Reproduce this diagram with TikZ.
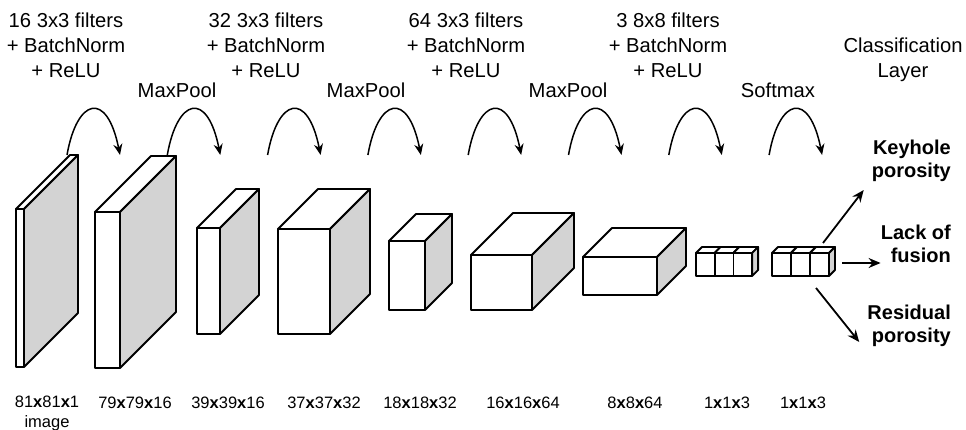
\documentclass[tikz,border=0pt]{standalone}
\usepackage{fontspec}
\setmainfont{Liberation Sans}
\usetikzlibrary{arrows.meta}

\definecolor{sidegray}{RGB}{211,211,211}
\newcommand{\dimx}{\textbf{x}}
% one layer block: x, y of the front's top left, width, height, depth
\newcommand{\layerbox}[5]{
	\draw[face] (#1,#2) -- ({#1+#5},{#2-#5}) -- ({#1+#3+#5},{#2-#5}) -- ({#1+#3},#2) -- cycle;
	\draw[face,fill=sidegray] ({#1+#3},#2) -- ({#1+#3+#5},{#2-#5}) -- ({#1+#3+#5},{#2+#4-#5}) -- ({#1+#3},{#2+#4}) -- cycle;
	\draw[face] (#1,#2) rectangle ({#1+#3},{#2+#4});
}

\tikzset{
	face/.style={draw, fill=white, line width=1.8pt, line join=round},
	hop/.style={line width=1.5pt, -{Stealth[length=11pt,width=9pt]}},
	outarrow/.style={line width=1.8pt, -{Stealth[length=12pt,width=10pt]}},
	toplabel/.style={font=\fontsize{20.2}{25}\selectfont, align=center, inner sep=0pt},
	dimlabel/.style={font=\fontsize{16.5}{20}\selectfont, align=center, inner sep=0pt},
	classlabel/.style={font=\fontsize{20}{23}\selectfont\bfseries, align=right, inner sep=0pt, anchor=east}
}

\begin{document}
\begin{tikzpicture}[x=1pt,y=-1pt]

	\useasboundingbox (0,0) rectangle (966,430);

	% blocks
	\layerbox{16}{209}{8}{158}{54}
	\layerbox{95}{212}{25}{156}{56}
	\layerbox{197}{228}{23}{106}{39}
	\layerbox{278}{229}{52}{105}{40}
	\layerbox{389}{241}{36}{69}{27}
	\layerbox{471}{255}{61}{55}{42}
	\layerbox{583}{257}{74}{38}{29}
	\foreach \i in {0,1,2}{
		\layerbox{696+18.7*\i}{253}{18.7}{23}{6}
		\layerbox{772+19*\i}{253}{19}{23}{6}
	}

	% operations between the blocks
	\foreach \i in {0,...,7}{
		\pgfmathsetmacro{\s}{67+100.3*\i}
		\draw[hop] (\s,155) .. controls ({\s+10},98) and ({\s+40},90) .. ({\s+53},155);
	}

	\node[toplabel] (conv1) at (66,45) {16 3x3 filters\\+ BatchNorm\\+ ReLU};
	\node[toplabel] (conv2) at (266,45) {32 3x3 filters\\+ BatchNorm\\+ ReLU};
	\node[toplabel] (conv3) at (466,45) {64 3x3 filters\\+ BatchNorm\\+ ReLU};
	\node[toplabel] (conv4) at (668,45) {3 8x8 filters\\+ BatchNorm\\+ ReLU};
	\node[toplabel] (pool1) at (177,90) {MaxPool};
	\node[toplabel] (pool2) at (366,90) {MaxPool};
	\node[toplabel] (pool3) at (568,90) {MaxPool};
	\node[toplabel] (soft) at (778,90) {Softmax};
	\node[toplabel] (classlayer) at (903,60) {Classification\\Layer};

	% sizes
	\node[dimlabel] (dim1) at (47,413) {81\dimx81\dimx1\\image};
	\node[dimlabel] (dim2) at (135,403) {79\dimx79\dimx16};
	\node[dimlabel] (dim3) at (228,403) {39\dimx39\dimx16};
	\node[dimlabel] (dim4) at (324,403) {37\dimx37\dimx32};
	\node[dimlabel] (dim5) at (420,403) {18\dimx18\dimx32};
	\node[dimlabel] (dim6) at (523,403) {16\dimx16\dimx64};
	\node[dimlabel] (dim7) at (635,403) {8\dimx8\dimx64};
	\node[dimlabel] (dim8) at (727,403) {1\dimx1\dimx3};
	\node[dimlabel] (dim9) at (803,403) {1\dimx1\dimx3};

	% classes
	\node[classlabel] (keyhole) at (951,161) {Keyhole\\porosity};
	\node[classlabel] (lack) at (951,244) {Lack of\\fusion};
	\node[classlabel] (residual) at (951,326) {Residual\\porosity};

	\coordinate (outup) at (823,243);
	\coordinate (outmid) at (842,263);
	\coordinate (outdown) at (816,288);
	\draw[outarrow] (outup) -- ([xshift=-8pt,yshift=-8pt]keyhole.south west);
	\draw[outarrow] (outmid) -- (lack.south west |- outmid);
	\draw[outarrow] (outdown) -- ([xshift=-8pt,yshift=5pt]residual.south west);

\end{tikzpicture}
\end{document}
